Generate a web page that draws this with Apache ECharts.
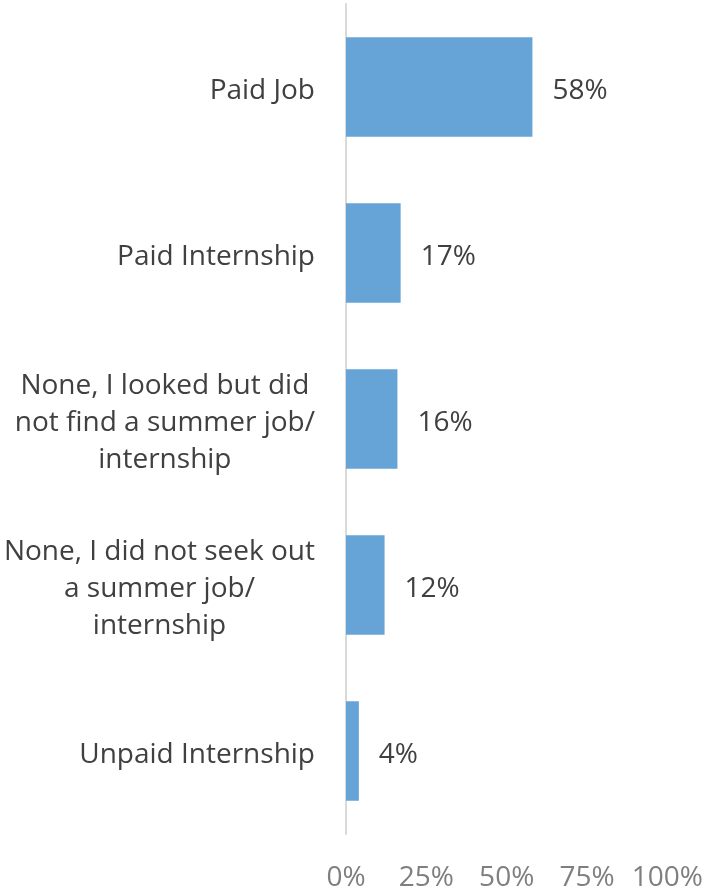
<!DOCTYPE html>
<html>
<head>
<meta charset="utf-8">
<script src="https://cdn.jsdelivr.net/npm/echarts@6/dist/echarts.min.js"></script>
<style>
  html, body { margin: 0; padding: 0; background: #fff; }
  #chart { width: 706px; height: 892px; }
</style>
</head>
<body>
<div id="chart"></div>
<script>
const categories = [
  "Paid Job",
  "Paid Internship",
  "None, I looked but did\nnot find a summer job/\ninternship",
  "None, I did not seek out\na summer job/\ninternship",
  "Unpaid Internship",
];
const values = [58, 17, 16, 12, 4];
const xTicks = { min: 0, max: 100, interval: 25 };

const font = "'Open Sans', sans-serif";

const chart = echarts.init(document.getElementById("chart"));
chart.setOption({
  animation: false,
  grid: { left: 346, right: 38, top: 4, bottom: 56, containLabel: false },
  xAxis: {
    type: "value",
    min: xTicks.min,
    max: xTicks.max,
    interval: xTicks.interval,
    axisLine: { show: false },
    axisTick: { show: false },
    splitLine: { show: false },
    axisLabel: {
      formatter: "{value}%",
      color: "#7f7f7f",
      fontSize: 28,
      fontFamily: font,
      margin: 30,
    },
  },
  yAxis: {
    type: "category",
    inverse: true,
    data: categories,
    axisLine: { show: true, lineStyle: { color: "#d9d9d9", width: 2 } },
    axisTick: { show: false },
    axisLabel: {
      margin: 31,
      align: "right",
      color: "#404040",
      fontSize: 28,
      fontFamily: font,
      lineHeight: 37,
      padding: [8, 0, 0, 0],
      // each line centred inside the right-aligned block
      formatter: (v) => v.split("\n").map((s) => "{c|" + s + "}").join("\n"),
      rich: {
        c: { align: "center", color: "#404040", fontSize: 28, fontFamily: font, lineHeight: 37 },
      },
    },
  },
  series: [
    {
      type: "bar",
      data: values,
      barCategoryGap: "40%",
      itemStyle: { color: "#66a3d7" },
      label: {
        show: true,
        position: "right",
        distance: 20,
        offset: [0, 4],
        formatter: "{c}%",
        color: "#404040",
        fontSize: 28,
        fontFamily: font,
      },
    },
  ],
});
</script>
</body>
</html>
